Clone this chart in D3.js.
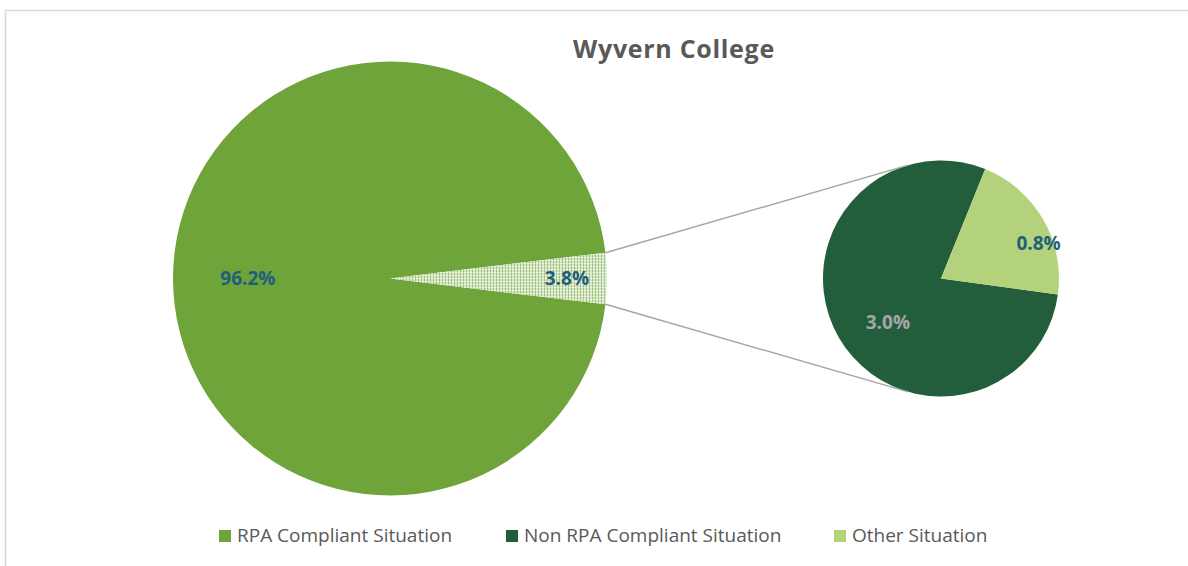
<!DOCTYPE html>
<html>
<head>
<meta charset="utf-8">
<script src="https://cdn.jsdelivr.net/npm/d3@7"></script>
<style>
  body { margin: 0; background: #ffffff; }
  text { font-family: "Open Sans", "Noto Sans", sans-serif; }
</style>
</head>
<body>
<div id="chart"></div>
<script>
// data
var categories = ['RPA Compliant Situation', 'Non RPA Compliant Situation', 'Other Situation']
var values = [96.2, 3.0, 0.8]
var title = 'Wyvern College'

var colors = ['#6fa43a', '#235e3c', '#b4d27c']
var labelBlue = '#1f5f7b'

var width = 1188
var height = 566

var svg = d3.select('#chart').append('svg')
    .attr('width', width)
    .attr('height', height)

// frame (only top and left edges visible)
svg.append('path')
    .attr('d', 'M5.5,' + height + 'L5.5,10.5L' + width + ',10.5')
    .attr('fill', 'none')
    .attr('stroke', '#d9d9d9')
    .attr('stroke-width', 1.5)

svg.append('text')
    .attr('x', 674)
    .attr('y', 58)
    .attr('text-anchor', 'middle')
    .attr('font-size', 25)
    .attr('font-weight', 'bold')
    .attr('letter-spacing', 0.7)
    .attr('fill', '#595959')
    .text(title)

var defs = svg.append('defs')
var pattern = defs.append('pattern')
    .attr('id', 'dots')
    .attr('patternUnits', 'userSpaceOnUse')
    .attr('width', 3)
    .attr('height', 3)
pattern.append('rect').attr('width', 3).attr('height', 3).attr('fill', '#ffffff')
pattern.append('rect').attr('x', 0.6).attr('y', 0.6).attr('width', 1.8).attr('height', 1.8).attr('fill', colors[0])

var toRad = Math.PI / 180

// main pie: the first category, plus the rest grouped into one slice centred at 3 o'clock
var otherTotal = d3.sum(values.slice(1))
var mainValues = [values[0], otherTotal]
var grouped = 360 * otherTotal / d3.sum(mainValues)
var mainStart = (90 + grouped / 2) * toRad

var mainCx = 390, mainCy = 278.5, mainR = 217
var smallCx = 941, smallCy = 278.5, smallR = 118

var mainPie = d3.pie().sort(null)
    .startAngle(mainStart)
    .endAngle(mainStart + 2 * Math.PI)
var mainArcs = mainPie(mainValues)
var mainArc = d3.arc().innerRadius(0).outerRadius(mainR)

var gMain = svg.append('g').attr('transform', 'translate(' + mainCx + ',' + mainCy + ')')
gMain.selectAll('path')
    .data(mainArcs)
    .enter()
    .append('path')
    .attr('d', mainArc)
    .attr('fill', function(d, i){ return i === 0 ? colors[0] : 'url(#dots)' })

var mainLabelFactor = [0.655, 0.815]
gMain.selectAll('text')
    .data(mainArcs)
    .enter()
    .append('text')
    .attr('transform', function(d, i){
        var c = d3.arc().innerRadius(0).outerRadius(mainR * mainLabelFactor[i] * 2).centroid(d)
        return 'translate(' + c[0] + ',' + c[1] + ')'
    })
    .attr('text-anchor', 'middle')
    .attr('dy', '0.36em')
    .attr('font-size', 19)
    .attr('font-weight', 'bold')
    .attr('fill', labelBlue)
    .text(function(d){ return d.data.toFixed(1) + '%' })

// secondary pie
var smallValues = values.slice(1)
var smallStart = 97.8 * toRad
var smallPie = d3.pie().sort(null)
    .startAngle(smallStart)
    .endAngle(smallStart + 2 * Math.PI)
var smallArcs = smallPie(smallValues)
var smallArc = d3.arc().innerRadius(0).outerRadius(smallR)

var gSmall = svg.append('g').attr('transform', 'translate(' + smallCx + ',' + smallCy + ')')
gSmall.selectAll('path')
    .data(smallArcs)
    .enter()
    .append('path')
    .attr('d', smallArc)
    .attr('fill', function(d, i){ return colors[i + 1] })

var smallLabelPos = [[0.58, -9 * toRad], [0.88, 10 * toRad]]
var smallLabelColor = ['#a6a6a6', labelBlue]
gSmall.selectAll('text')
    .data(smallArcs)
    .enter()
    .append('text')
    .attr('transform', function(d, i){
        var a = (d.startAngle + d.endAngle) / 2 + smallLabelPos[i][1]
        var r = smallR * smallLabelPos[i][0]
        return 'translate(' + (r * Math.sin(a)) + ',' + (-r * Math.cos(a)) + ')'
    })
    .attr('text-anchor', 'middle')
    .attr('dy', '0.36em')
    .attr('font-size', 19)
    .attr('font-weight', 'bold')
    .attr('fill', function(d, i){ return smallLabelColor[i] })
    .text(function(d){ return d.data.toFixed(1) + '%' })

// connector lines: from the grouped slice edges to tangent points on the secondary pie
var g = mainArcs[1]
var edges = [g.startAngle, g.endAngle].map(function(a){
    return [mainCx + mainR * Math.sin(a), mainCy - mainR * Math.cos(a)]
})
edges.forEach(function(p, k){
    var dx = p[0] - smallCx, dy = p[1] - smallCy
    var d = Math.sqrt(dx * dx + dy * dy)
    var base = Math.atan2(dy, dx)
    var off = Math.acos(smallR / d)
    var ang = k === 0 ? base + off : base - off
    svg.append('line')
        .attr('x1', p[0]).attr('y1', p[1])
        .attr('x2', smallCx + smallR * Math.cos(ang))
        .attr('y2', smallCy + smallR * Math.sin(ang))
        .attr('stroke', '#a6a6a6')
        .attr('stroke-width', 1.5)
})

// legend
var legendX = [219, 506, 834]
var legend = svg.append('g')
legend.selectAll('rect')
    .data(categories)
    .enter()
    .append('rect')
    .attr('x', function(d, i){ return legendX[i] })
    .attr('y', 530)
    .attr('width', 12)
    .attr('height', 12)
    .attr('fill', function(d, i){ return colors[i] })
legend.selectAll('text')
    .data(categories)
    .enter()
    .append('text')
    .attr('x', function(d, i){ return legendX[i] + 18 })
    .attr('y', 542)
    .attr('font-size', 19)
    .attr('fill', '#595959')
    .text(function(d){ return d })
</script>
</body>
</html>
